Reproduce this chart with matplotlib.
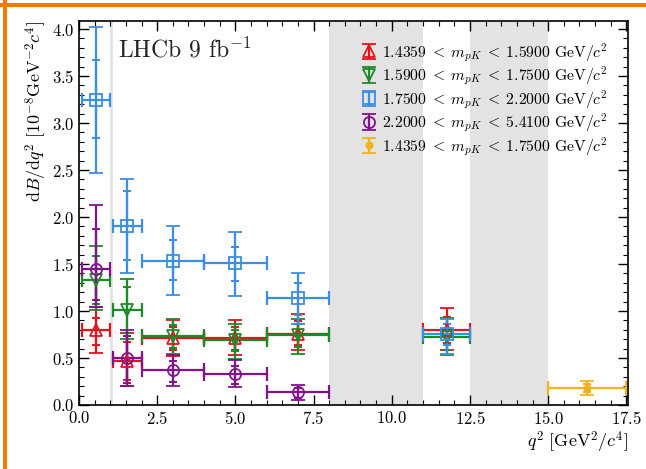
import matplotlib
matplotlib.use("Agg")
import matplotlib.pyplot as plt
from matplotlib.lines import Line2D
from matplotlib.ticker import MultipleLocator

plt.rcParams['font.family'] = 'serif'
plt.rcParams['font.serif'] = ['cmr10']
plt.rcParams['mathtext.fontset'] = 'cm'
plt.rcParams['axes.formatter.use_mathtext'] = True

# q2 bins (GeV^2/c^4)
lo = [0.1, 1.1, 2.0, 4.0, 6.0, 11.0]
hi = [0.98, 2.0, 4.0, 6.0, 8.0, 12.5]

labels = [
    r"$1.4359\;<\;m_{pK}\;<\;1.5900\ \mathrm{GeV}/c^2$",
    r"$1.5900\;<\;m_{pK}\;<\;1.7500\ \mathrm{GeV}/c^2$",
    r"$1.7500\;<\;m_{pK}\;<\;2.2000\ \mathrm{GeV}/c^2$",
    r"$2.2000\;<\;m_{pK}\;<\;5.4100\ \mathrm{GeV}/c^2$",
    r"$1.4359\;<\;m_{pK}\;<\;1.7500\ \mathrm{GeV}/c^2$",
]
colors = ['#e8121c', '#1f8a2a', '#3a8fe3', '#82138a', '#f5b21e']
markers = ['^', 'v', 's', 'o', '.']

# central values, stat errors (up, down), total errors (up, down)
val_a = [0.80, 0.47, 0.71, 0.71, 0.76, 0.80]
stat_a_up = [0.13, 0.20, 0.12, 0.12, 0.13, 0.14]
stat_a_dn = [0.16, 0.20, 0.12, 0.12, 0.12, 0.14]
tot_a_up = [0.24, 0.30, 0.19, 0.19, 0.21, 0.23]
tot_a_dn = [0.25, 0.27, 0.19, 0.18, 0.18, 0.22]

val_b = [1.33, 1.01, 0.73, 0.69, 0.74, 0.72]
stat_b_up = [0.26, 0.25, 0.12, 0.11, 0.12, 0.14]
stat_b_dn = [0.26, 0.24, 0.12, 0.12, 0.12, 0.13]
tot_b_up = [0.36, 0.33, 0.19, 0.17, 0.18, 0.21]
tot_b_dn = [0.32, 0.31, 0.19, 0.20, 0.20, 0.19]

val_c = [3.25, 1.90, 1.535, 1.51, 1.135, 0.76]
stat_c_up = [0.42, 0.38, 0.22, 0.17, 0.16, 0.10]
stat_c_dn = [0.41, 0.36, 0.20, 0.19, 0.18, 0.12]
tot_c_up = [0.77, 0.50, 0.37, 0.33, 0.27, 0.16]
tot_c_dn = [0.78, 0.50, 0.36, 0.35, 0.27, 0.22]

# purple set has no point in the high-q2 bin
val_d = [1.45, 0.50, 0.37, 0.33, 0.135]
stat_d_up = [0.42, 0.23, 0.10, 0.09, 0.05]
stat_d_dn = [0.33, 0.27, 0.13, 0.11, 0.06]
tot_d_up = [0.68, 0.30, 0.16, 0.15, 0.075]
tot_d_dn = [0.41, 0.30, 0.17, 0.14, 0.08]

lo_e = [15.0]
hi_e = [17.5]
val_e = [0.18]
stat_e_up = [0.04]
stat_e_dn = [0.04]
tot_e_up = [0.07]
tot_e_dn = [0.07]

series = [
    (lo, hi, val_a, stat_a_up, stat_a_dn, tot_a_up, tot_a_dn),
    (lo, hi, val_b, stat_b_up, stat_b_dn, tot_b_up, tot_b_dn),
    (lo, hi, val_c, stat_c_up, stat_c_dn, tot_c_up, tot_c_dn),
    (lo[:5], hi[:5], val_d, stat_d_up, stat_d_dn, tot_d_up, tot_d_dn),
    (lo_e, hi_e, val_e, stat_e_up, stat_e_dn, tot_e_up, tot_e_dn),
]

# vetoed q2 regions
vetoes = [(0.98, 1.1), (8.0, 11.0), (12.5, 15.0)]

fig = plt.figure(figsize=(6.46, 4.69), dpi=100)
ax = fig.add_axes([0.1223, 0.1365, 0.8497, 0.8195])

for a, b in vetoes:
    ax.axvspan(a, b, color='#e3e3e3', lw=0, zorder=0)

handles = []
for (l, h, v, su, sd, tu, td), c, m, lab in zip(series, colors, markers, labels):
    x = [(p + q) / 2 for p, q in zip(l, h)]
    xe = [(q - p) / 2 for p, q in zip(l, h)]
    filled = m == '.'
    # bin width
    ax.errorbar(x, v, xerr=xe, fmt='none', ecolor=c,
                elinewidth=1.6, capsize=5, capthick=1.6)
    # total uncertainty, with marker
    eb = ax.errorbar(x, v, yerr=[td, tu], fmt=m, color=c,
                     mfc=c if filled else 'none', mec=c, ms=9 if filled else 8,
                     mew=1.3, elinewidth=1.6, capsize=5, capthick=1.6, label=lab)
    # statistical uncertainty
    ax.errorbar(x, v, yerr=[sd, su], fmt='none', ecolor=c,
                elinewidth=1.6, capsize=3, capthick=1.4)
    handles.append(eb)

ax.set_xlim(0, 17.55)
ax.set_ylim(0, 4.09)
ax.xaxis.set_major_locator(MultipleLocator(2.5))
ax.xaxis.set_minor_locator(MultipleLocator(0.5))
ax.yaxis.set_major_locator(MultipleLocator(0.5))
ax.yaxis.set_minor_locator(MultipleLocator(0.1))
ax.tick_params(which='both', direction='in', top=True, right=True, labelsize=12)
ax.tick_params(which='major', length=7, width=1)
ax.tick_params(which='minor', length=3.5, width=0.8)
for s in ax.spines.values():
    s.set_linewidth(1.2)

ax.set_xlabel(r"$q^2\ [\mathrm{GeV}^2/c^4]$", fontsize=13, loc='right', labelpad=2)
ax.set_ylabel(r"$\mathrm{d}B/\mathrm{d}q^2\ [10^{-8}\mathrm{GeV}^{-2}c^4]$",
              fontsize=13, loc='top', labelpad=2)

ax.text(1.25, 3.78, r"LHCb 9 fb$^{-1}$", fontsize=17, va='center', color='#222222')

ax.legend(handles=handles, loc='upper right', frameon=False, fontsize=11.3,
          handlelength=0.8, handletextpad=0.4, labelspacing=0.04,
          borderaxespad=1.0, borderpad=0.3)

# slide frame
fig.add_artist(Line2D([0, 1], [1 - 5.3 / 469] * 2, color='#f27a00', lw=2.9,
                      transform=fig.transFigure))
fig.add_artist(Line2D([5.3 / 646] * 2, [0, 1], color='#f27a00', lw=2.9,
                      transform=fig.transFigure))

fig.savefig('out.png', dpi=100)
